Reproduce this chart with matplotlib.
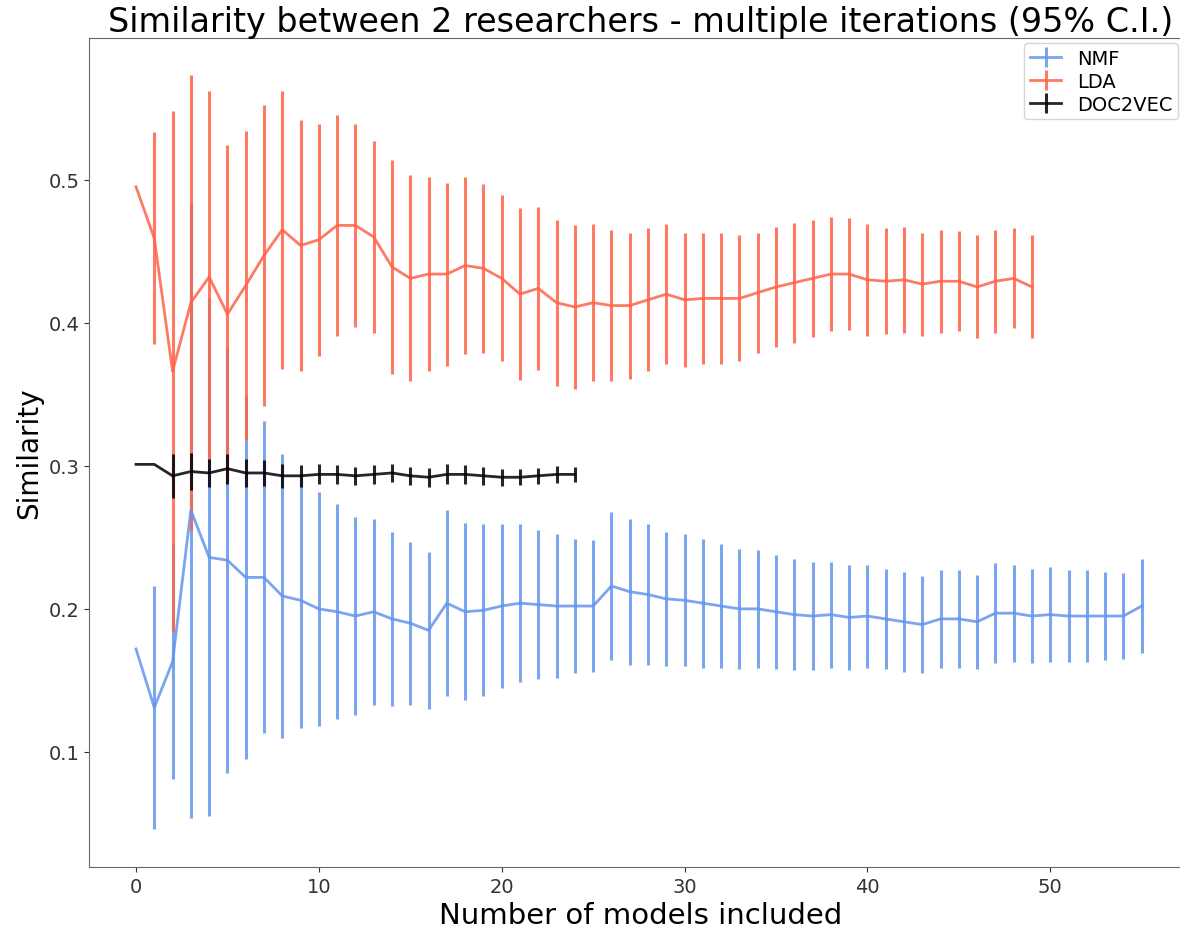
import numpy as np
import matplotlib
matplotlib.use("Agg")
import matplotlib.pyplot as plt

# values (mean and half-width of 95% C.I.)
nmf_mean = [0.172, 0.131, 0.163, 0.269, 0.236, 0.234, 0.222, 0.222, 0.209, 0.206,
            0.200, 0.198, 0.195, 0.198, 0.193, 0.190, 0.185, 0.204, 0.198, 0.199,
            0.202, 0.204, 0.203, 0.202, 0.202, 0.202, 0.216, 0.212, 0.210, 0.207,
            0.206, 0.204, 0.202, 0.200, 0.200, 0.198, 0.196, 0.195, 0.196, 0.194,
            0.195, 0.193, 0.191, 0.189, 0.193, 0.193, 0.191, 0.197, 0.197, 0.195,
            0.196, 0.195, 0.195, 0.195, 0.195, 0.202]
nmf_err = [0.0, 0.085, 0.082, 0.215, 0.181, 0.149, 0.127, 0.109, 0.099, 0.089,
           0.082, 0.075, 0.069, 0.065, 0.061, 0.057, 0.055, 0.065, 0.062, 0.060,
           0.057, 0.055, 0.052, 0.050, 0.047, 0.046, 0.052, 0.051, 0.049, 0.047,
           0.046, 0.045, 0.043, 0.042, 0.041, 0.040, 0.039, 0.038, 0.037, 0.037,
           0.036, 0.035, 0.035, 0.034, 0.034, 0.034, 0.033, 0.035, 0.034, 0.033,
           0.033, 0.032, 0.032, 0.031, 0.030, 0.033]

lda_mean = [0.495, 0.459, 0.366, 0.414, 0.432, 0.406, 0.426, 0.447, 0.465, 0.454,
            0.458, 0.468, 0.468, 0.460, 0.439, 0.431, 0.434, 0.434, 0.440, 0.438,
            0.431, 0.420, 0.424, 0.414, 0.411, 0.414, 0.412, 0.412, 0.416, 0.420,
            0.416, 0.417, 0.417, 0.417, 0.421, 0.425, 0.428, 0.431, 0.434, 0.434,
            0.430, 0.429, 0.430, 0.427, 0.429, 0.429, 0.425, 0.429, 0.431, 0.425]
lda_err = [0.0, 0.074, 0.182, 0.159, 0.130, 0.118, 0.108, 0.105, 0.097, 0.088,
           0.081, 0.077, 0.071, 0.067, 0.075, 0.072, 0.068, 0.064, 0.062, 0.059,
           0.058, 0.060, 0.057, 0.058, 0.057, 0.055, 0.053, 0.051, 0.050, 0.049,
           0.047, 0.046, 0.046, 0.044, 0.042, 0.042, 0.042, 0.041, 0.040, 0.039,
           0.039, 0.037, 0.037, 0.036, 0.036, 0.035, 0.036, 0.036, 0.035, 0.036]

d2v_mean = [0.301, 0.301, 0.293, 0.296, 0.295, 0.298, 0.295, 0.295, 0.293, 0.293,
            0.294, 0.294, 0.293, 0.294, 0.295, 0.293, 0.292, 0.294, 0.294, 0.293,
            0.292, 0.292, 0.293, 0.294, 0.294]
d2v_err = [0.0, 0.0, 0.0155, 0.0128, 0.0098, 0.0105, 0.0098, 0.009, 0.0084, 0.0076,
           0.007, 0.0068, 0.0062, 0.0066, 0.006, 0.0065, 0.0066, 0.007, 0.0065, 0.0062,
           0.006, 0.0056, 0.0056, 0.0058, 0.0052]

fig = plt.figure(figsize=(11.8, 9.29), dpi=100)
# right edge of the axes lies past the picture, as in the reference crop
ax = fig.add_axes([89 / 1180, 61 / 929, 1103 / 1180, 829 / 929])

ax.errorbar(np.arange(len(nmf_mean)), nmf_mean, yerr=nmf_err, color="cornflowerblue",
            alpha=0.85, linewidth=2, elinewidth=2.2, label="NMF")
ax.errorbar(np.arange(len(lda_mean)), lda_mean, yerr=lda_err, color="tomato",
            alpha=0.85, linewidth=2, elinewidth=2.2, label="LDA")
ax.errorbar(np.arange(len(d2v_mean)), d2v_mean, yerr=d2v_err, color="black",
            alpha=0.85, linewidth=2, elinewidth=2.2, label="DOC2VEC")

ax.set_xlim(-2.57, 57.75)
ax.set_ylim(0.0196, 0.599)
ax.set_yticks([0.1, 0.2, 0.3, 0.4, 0.5])
ax.set_xticks([0, 10, 20, 30, 40, 50])

ax.set_title("Similarity between 2 researchers - multiple iterations (95% C.I.)",
             fontsize=24, pad=2)
ax.set_xlabel("Number of models included", fontsize=21)
ax.set_ylabel("Similarity", fontsize=20)
ax.tick_params(labelsize=14, colors="#333333")
for s in ax.spines.values():
    s.set_color("#666666")

ax.legend(loc="upper right", bbox_to_anchor=(1178 / 1180, 1 - 44 / 929),
          bbox_transform=fig.transFigure, fontsize=14, labelspacing=0.2,
          handlelength=1.6, borderpad=0.3, borderaxespad=0)

plt.savefig("out.png", dpi=100)
